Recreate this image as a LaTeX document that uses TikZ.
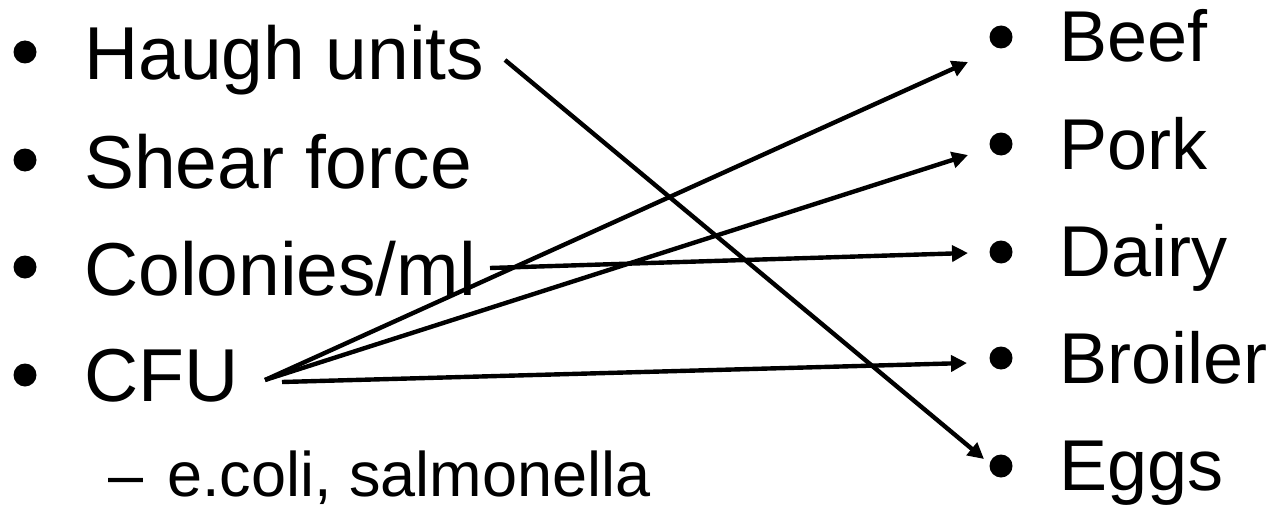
\documentclass[tikz,border=0pt]{standalone}
\usepackage{fontspec}
\setmainfont{Liberation Sans}
\usetikzlibrary{arrows.meta}
\begin{document}
\begin{tikzpicture}[x=1pt,y=-1pt,
  lefttext/.style={anchor=base west,inner sep=0pt,font=\fontsize{75}{80}\selectfont},
  righttext/.style={anchor=base west,inner sep=0pt,font=\fontsize{72}{80}\selectfont},
  subitem/.style={anchor=base west,inner sep=0pt,font=\fontsize{63}{70}\selectfont},
  dot/.style={circle,fill=black,inner sep=0pt,minimum size=23pt},
  link/.style={line width=4.4pt,-{Triangle[length=16pt,width=16pt]}}]
\useasboundingbox (0,0) rectangle (1281,508);

% left list
\node[dot] (lb1) at (25,52) {};
\node[dot] (lb2) at (25,160) {};
\node[dot] (lb3) at (25,267) {};
\node[dot] (lb4) at (25,375) {};
\node[lefttext] (haugh) at (84,80) {Haugh units};
\node[lefttext] (shear) at (84,188) {Shear force};
\node[lefttext] (colon) at (84,295) {Colonies/ml};
\node[lefttext] (cfu) at (84,401) {CFU};
\node[subitem] (sub) at (108,496) {–\hspace{24pt}e.coli, salmonella};

% right list
\node[dot] (rb1) at (1001,37) {};
\node[dot] (rb2) at (1001,144) {};
\node[dot] (rb3) at (1001,252) {};
\node[dot] (rb4) at (1001,358) {};
\node[dot] (rb5) at (1001,466) {};
\node[righttext] (beef) at (1059,62) {Beef};
\node[righttext] (pork) at (1059,169) {Pork};
\node[righttext] (dairy) at (1059,276) {Dairy};
\node[righttext] (broiler) at (1059,383) {Broiler};
\node[righttext] (eggs) at (1059,490) {Eggs};

% connector end points
\coordinate (hs) at (505,60);
\coordinate (cs) at (490,268);
\coordinate (fs) at (265,380);
\coordinate (fs2) at (282,382);
\coordinate (tbeef) at (968,62);
\coordinate (tpork) at (968,155);
\coordinate (tdairy) at (968,253);
\coordinate (tbroiler) at (967,363);
\coordinate (teggs) at (984,459);

% connectors
\draw[link] (hs) -- (teggs);
\draw[link] (cs) -- (tdairy);
\draw[link] (fs) -- (tbeef);
\draw[link] (fs) -- (tpork);
\draw[link] (fs2) -- (tbroiler);
\end{tikzpicture}
\end{document}
